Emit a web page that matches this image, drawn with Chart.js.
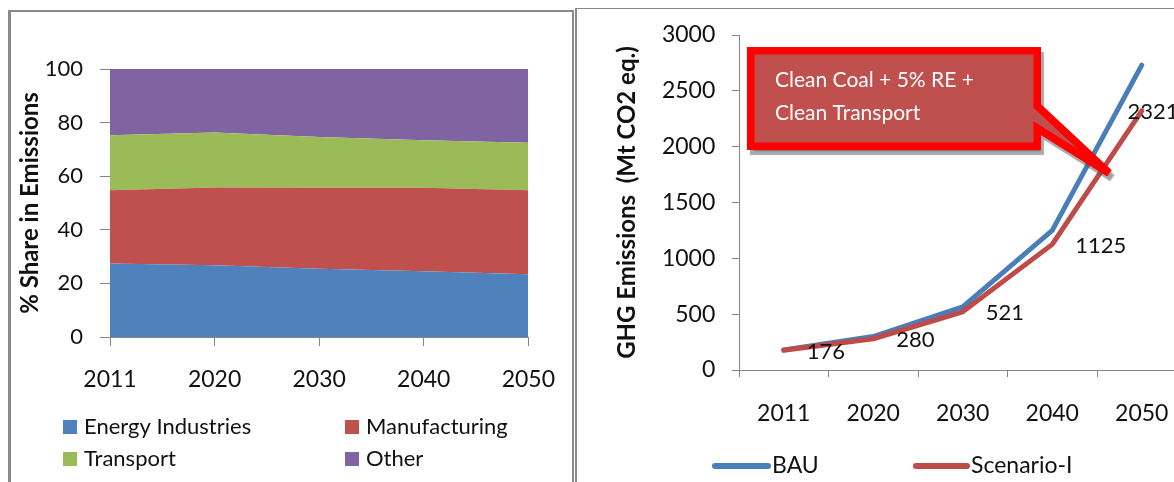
<!DOCTYPE html>
<html><head><meta charset="utf-8">
<script src="https://cdn.jsdelivr.net/npm/chart.js@4/dist/chart.umd.min.js"></script>
<style>
html,body{margin:0;padding:0;background:#fff;overflow:hidden;width:1174px;height:482px;position:relative;}
#frameL{position:absolute;left:8px;top:10px;width:566px;height:600px;box-sizing:border-box;border-left:3px solid #8a8a8a;border-top:2px solid #8a8a8a;border-right:2px solid #8a8a8a;}
#frameR{position:absolute;left:575px;top:8px;width:700px;height:600px;box-sizing:border-box;border-left:2px solid #8a8a8a;border-top:1px solid #8a8a8a;}
#cL{position:absolute;left:0;top:0;}
#cR{position:absolute;left:578px;top:0;}
</style></head><body>
<div id="frameL"></div><div id="frameR"></div>
<canvas id="cL" width="575" height="482"></canvas>
<canvas id="cR" width="640" height="482"></canvas>
<script>
// ---- data ----
const years = ['2011', '2020', '2030', '2040', '2050'];
const energyIndustries = [27.4, 26.8, 25.5, 24.5, 23.4];
const manufacturing = [27.4, 29.0, 30.2, 31.2, 31.4];
const transport = [20.5, 20.5, 18.9, 17.7, 17.7];
const other = [24.7, 23.7, 25.4, 26.6, 27.5];
const shareTicks = [0, 20, 40, 60, 80, 100];

const bau = [180, 300, 565, 1250, 2730];
const scenarioI = [176, 280, 521, 1125, 2321];
const emissionTicks = [0, 500, 1000, 1500, 2000, 2500, 3000];
const calloutLines = ['Clean Coal + 5% RE +', 'Clean Transport'];

// ---- styles ----
const FONT = 'Lato';
const TXT = '#111111';
const AXIS = '#868686';

const legendLeft = {
  id: 'legendLeft',
  afterDraw(chart) {
    const ctx = chart.ctx;
    const ds = chart.data.datasets;
    const cols = [63, 345], rows = [427, 459];
    ctx.save();
    ctx.font = '22px ' + FONT;
    ctx.textBaseline = 'middle';
    ctx.textAlign = 'left';
    ds.forEach((d, i) => {
      const cx = cols[i % 2], cy = rows[Math.floor(i / 2)];
      ctx.fillStyle = d.backgroundColor;
      ctx.fillRect(cx, cy - 7, 14, 14);
      ctx.fillStyle = TXT;
      ctx.fillText(d.label, cx + 21, cy);
    });
    ctx.restore();
  }
};

new Chart(document.getElementById('cL'), {
  type: 'line',
  data: {
    labels: years,
    datasets: [
      { label: 'Energy Industries', data: energyIndustries, backgroundColor: '#4F81BD', fill: 'origin' },
      { label: 'Manufacturing', data: manufacturing, backgroundColor: '#C0504D', fill: '-1' },
      { label: 'Transport', data: transport, backgroundColor: '#9BBB59', fill: '-1' },
      { label: 'Other', data: other, backgroundColor: '#8064A2', fill: '-1' }
    ].map(d => Object.assign({ borderWidth: 0, pointRadius: 0, tension: 0, borderColor: d.backgroundColor }, d))
  },
  options: {
    responsive: false, animation: false, devicePixelRatio: 1,
    layout: { padding: { left: 0, top: 69, right: 45, bottom: 0 } },
    plugins: { legend: { display: false }, tooltip: { enabled: false } },
    scales: {
      x: {
        offset: false,
        grid: { display: true, drawOnChartArea: false, drawTicks: true, tickLength: 9, color: AXIS, offset: false },
        border: { display: true, color: AXIS, width: 1 },
        ticks: { font: { family: FONT, size: 23 }, color: TXT, padding: 20, maxRotation: 0, autoSkip: false },
        afterFit: s => { s.height = 145; }
      },
      y: {
        stacked: true, min: 0, max: 100,
        afterBuildTicks: s => { s.ticks = shareTicks.map(v => ({ value: v })); },
        ticks: { font: { family: FONT, size: 22 }, color: TXT, padding: 17, callback: v => String(v) },
        grid: { drawOnChartArea: false, tickLength: 10, color: AXIS },
        border: { display: true, color: AXIS, width: 1 },
        title: { display: true, text: '% Share in Emissions', color: TXT,
                 font: { family: FONT, size: 24, weight: 'bold' }, padding: { top: 15.6, bottom: 0 } },
        afterFit: s => { s.width = 110; }
      }
    }
  },
  plugins: [legendLeft]
});

// ---- right chart ----
const CALLOUT = { x0: -0.369, x1: 2.832, y0: 2859, y1: 2004, py0: 2364, py1: 2167, tipX: 3.634, tipY: 1764, textX: -0.098, textY: [2597, 2301] };

const dataLabels = {
  id: 'dataLabels',
  afterDatasetsDraw(chart) {
    const ctx = chart.ctx;
    const meta = chart.getDatasetMeta(1);
    const area = chart.chartArea;
    ctx.save();
    ctx.font = '22px ' + FONT;
    ctx.fillStyle = TXT;
    ctx.textBaseline = 'middle';
    ctx.textAlign = 'left';
    meta.data.forEach((el, i) => {
      const t = String(chart.data.datasets[1].data[i]);
      const w = ctx.measureText(t).width;
      const x = Math.min(el.x + 23, area.right - 8 - w);
      ctx.fillText(t, x, el.y + 1.5);
    });
    ctx.restore();
  }
};

const callout = {
  id: 'callout',
  afterDraw(chart) {
    const { ctx } = chart;
    const xs = chart.scales.x, ys = chart.scales.y;
    const X = v => xs.getPixelForValue(v), Y = v => ys.getPixelForValue(v);
    const L = X(CALLOUT.x0), R = X(CALLOUT.x1), T = Y(CALLOUT.y0), B = Y(CALLOUT.y1);
    const p1 = Y(CALLOUT.py0), p2 = Y(CALLOUT.py1), tx = X(CALLOUT.tipX), ty = Y(CALLOUT.tipY);
    const path = () => {
      ctx.beginPath();
      ctx.moveTo(L, T); ctx.lineTo(R, T); ctx.lineTo(R, p1); ctx.lineTo(tx, ty);
      ctx.lineTo(R, p2); ctx.lineTo(R, B); ctx.lineTo(L, B); ctx.closePath();
    };
    ctx.save();
    ctx.lineWidth = 7.5; ctx.lineJoin = 'miter'; ctx.miterLimit = 3;
    ctx.fillStyle = '#C0504D'; ctx.strokeStyle = '#FF0000';
    ctx.shadowColor = 'rgba(90,80,80,0.5)'; ctx.shadowOffsetX = 3; ctx.shadowOffsetY = 5; ctx.shadowBlur = 1;
    path(); ctx.fill(); ctx.stroke();
    ctx.shadowColor = 'transparent';
    path(); ctx.fill(); ctx.stroke();
    ctx.font = '21px ' + FONT;
    ctx.fillStyle = '#FFFFFF';
    ctx.textBaseline = 'middle'; ctx.textAlign = 'left';
    calloutLines.forEach((t, i) => ctx.fillText(t, X(CALLOUT.textX), Y(CALLOUT.textY[i])));
    ctx.restore();
  }
};

const legendRight = {
  id: 'legendRight',
  afterDraw(chart) {
    const ctx = chart.ctx;
    const items = [{ x: 137, w: 53 }, { x: 338, w: 51 }];
    const cy = 466;
    ctx.save();
    ctx.font = '23px ' + FONT;
    ctx.textBaseline = 'middle'; ctx.textAlign = 'left';
    chart.data.datasets.forEach((d, i) => {
      const it = items[i];
      ctx.strokeStyle = d.borderColor; ctx.lineWidth = 6; ctx.lineCap = 'round';
      ctx.beginPath(); ctx.moveTo(it.x, cy); ctx.lineTo(it.x + it.w, cy); ctx.stroke();
      ctx.fillStyle = TXT;
      ctx.fillText(d.label, it.x + it.w + 4, cy);
    });
    ctx.restore();
  }
};

new Chart(document.getElementById('cR'), {
  type: 'line',
  data: {
    labels: years,
    datasets: [
      { label: 'BAU', data: bau, borderColor: '#4A7EBB', order: 1 },
      { label: 'Scenario-I', data: scenarioI, borderColor: '#BE4B48', order: 0 }
    ].map(d => Object.assign({ borderWidth: 5, pointRadius: 0, tension: 0, fill: false, borderCapStyle: 'round', borderJoinStyle: 'round' }, d))
  },
  options: {
    responsive: false, animation: false, devicePixelRatio: 1,
    layout: { padding: { left: 0, top: 35, right: 31.5, bottom: 0 } },
    plugins: { legend: { display: false }, tooltip: { enabled: false } },
    scales: {
      x: {
        offset: true,
        grid: { display: true, drawOnChartArea: false, tickLength: 7, color: AXIS, offset: true },
        border: { display: true, color: AXIS, width: 1 },
        ticks: { font: { family: FONT, size: 23 }, color: TXT, padding: 22.5, maxRotation: 0, autoSkip: false },
        afterFit: s => { s.height = 112; }
      },
      y: {
        min: 0, max: 3000,
        afterBuildTicks: s => { s.ticks = emissionTicks.map(v => ({ value: v })); },
        ticks: { font: { family: FONT, size: 23 }, color: TXT, padding: 16.7, callback: v => String(v) },
        grid: { drawOnChartArea: false, tickLength: 7, color: AXIS },
        border: { display: true, color: AXIS, width: 1 },
        title: { display: true, text: 'GHG Emissions  (Mt CO2 eq.)', color: TXT,
                 font: { family: FONT, size: 24, weight: 'bold' }, padding: { top: 34.6, bottom: 0 } },
        afterFit: s => { s.width = 161; }
      }
    }
  },
  plugins: [dataLabels, callout, legendRight]
});
</script>
</body></html>
